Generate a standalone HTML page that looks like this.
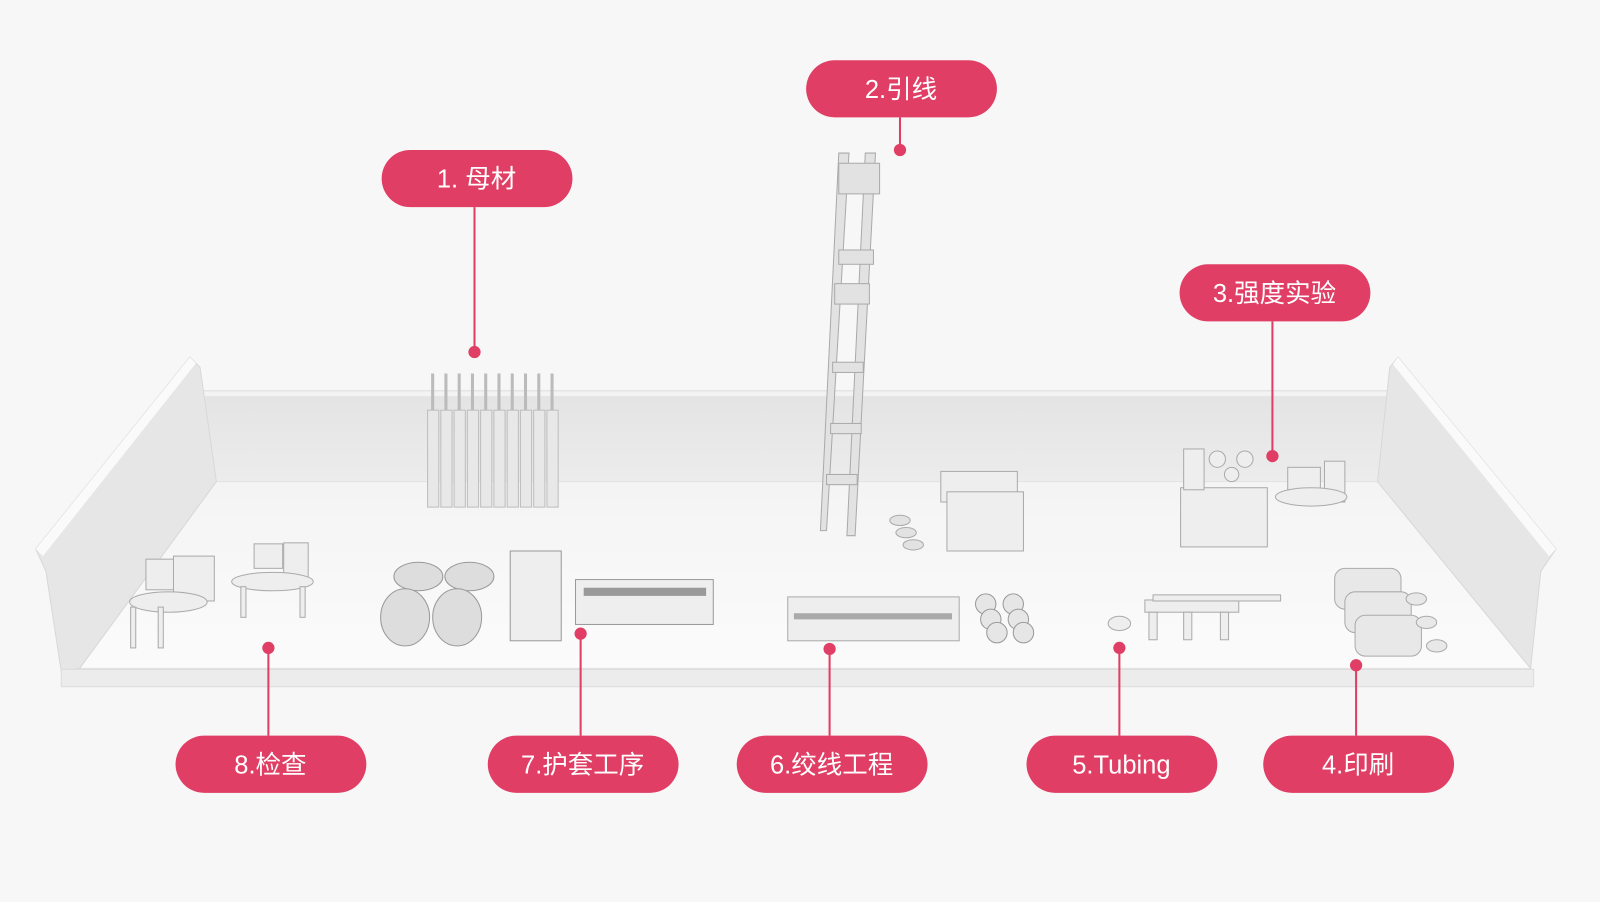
<!DOCTYPE html>
<html><head><meta charset="utf-8"><style>
html,body{margin:0;padding:0;background:#f7f7f7;}
svg{display:block}
text{font-family:"Liberation Sans","Noto Sans CJK SC",sans-serif;}
</style></head><body>
<svg width="1600" height="902" viewBox="0 0 1568 884" xmlns="http://www.w3.org/2000/svg">
<defs>
<linearGradient id="wall" x1="0" y1="0" x2="0" y2="1"><stop offset="0" stop-color="#e4e4e4"/><stop offset="1" stop-color="#ececec"/></linearGradient>
<linearGradient id="floor" x1="0" y1="0" x2="0" y2="1"><stop offset="0" stop-color="#f4f4f4"/><stop offset="1" stop-color="#fbfbfb"/></linearGradient>
</defs>
<rect width="1568" height="884" fill="#f7f7f7"/>
<!-- back wall -->
<rect x="195" y="383" width="1170" height="6" fill="#f3f3f3" stroke="#ddd"/>
<rect x="195" y="389" width="1170" height="83" fill="url(#wall)"/>
<!-- floor -->
<polygon points="212,472 1350,472 1500,655 78,655" fill="url(#floor)" stroke="#e2e2e2"/>
<!-- left wall -->
<polygon points="35,538 186,350 196,360 212,472 78,655 60,658 45,560" fill="#e6e6e6" stroke="#d8d8d8"/>
<polygon points="35,538 186,350 192,356 42,545" fill="#fafafa"/>
<!-- right wall -->
<polygon points="1370,350 1525,538 1510,560 1500,655 1350,472 1362,360" fill="#e6e6e6" stroke="#d8d8d8"/>
<polygon points="1370,350 1525,538 1518,545 1365,357" fill="#fafafa"/>
<!-- front edge -->
<rect x="60" y="656" width="1443" height="17" fill="#ececec" stroke="#dcdcdc"/>
<!-- rods (1) -->
<g fill="#e8e8e8" stroke="#bdbdbd">
<rect x="419" y="402" width="11" height="95"/><rect x="432" y="402" width="11" height="95"/><rect x="445" y="402" width="11" height="95"/><rect x="458" y="402" width="11" height="95"/><rect x="471" y="402" width="11" height="95"/><rect x="484" y="402" width="11" height="95"/><rect x="497" y="402" width="11" height="95"/><rect x="510" y="402" width="11" height="95"/><rect x="523" y="402" width="11" height="95"/><rect x="536" y="402" width="11" height="95"/>
</g>
<g stroke="#bbb" stroke-width="3"><path d="M424 366V402M437 366V402M450 366V402M463 366V402M476 366V402M489 366V402M502 366V402M515 366V402M528 366V402M541 366V402"/></g>
<!-- tower (2) -->
<g fill="#e2e2e2" stroke="#aaa">
<polygon points="822,150 832,150 810,520 804,520"/>
<polygon points="848,150 858,150 838,525 830,525"/>
<rect x="822" y="160" width="40" height="30"/><rect x="822" y="245" width="34" height="14"/><rect x="818" y="278" width="34" height="20"/>
<rect x="816" y="355" width="30" height="10"/><rect x="814" y="415" width="30" height="10"/><rect x="810" y="465" width="30" height="10"/>
<ellipse cx="882" cy="510" rx="10" ry="5"/><ellipse cx="888" cy="522" rx="10" ry="5"/><ellipse cx="895" cy="534" rx="10" ry="5"/>
</g>
<g fill="#eee" stroke="#aaa"><rect x="922" y="462" width="75" height="30"/><rect x="928" y="482" width="75" height="58"/></g>
<!-- spools (7) -->
<g fill="#ddd" stroke="#999">
<ellipse cx="410" cy="565" rx="24" ry="14"/><ellipse cx="460" cy="565" rx="24" ry="14"/>
<ellipse cx="397" cy="605" rx="24" ry="28"/><ellipse cx="448" cy="605" rx="24" ry="28"/>
<rect x="500" y="540" width="50" height="88" fill="#eee"/>
<rect x="564" y="568" width="135" height="44" fill="#eee"/>
</g>
<rect x="572" y="576" width="120" height="8" fill="#999"/>
<!-- stranding (6) -->
<g fill="#eee" stroke="#aaa"><rect x="772" y="585" width="168" height="43"/></g>
<rect x="778" y="601" width="155" height="6" fill="#aaa"/>
<g fill="#e6e6e6" stroke="#999"><circle cx="966" cy="592" r="10"/><circle cx="993" cy="592" r="10"/><circle cx="971" cy="607" r="10"/><circle cx="998" cy="607" r="10"/><circle cx="977" cy="620" r="10"/><circle cx="1003" cy="620" r="10"/></g>
<!-- tubing (5) -->
<g fill="#eee" stroke="#aaa"><rect x="1122" y="588" width="92" height="12"/><rect x="1126" y="600" width="8" height="27"/><rect x="1160" y="600" width="8" height="27"/><rect x="1196" y="600" width="8" height="27"/><rect x="1130" y="583" width="125" height="6"/><ellipse cx="1097" cy="611" rx="11" ry="7"/></g>
<!-- printing (4) -->
<g fill="#e8e8e8" stroke="#aaa"><rect x="1308" y="557" width="65" height="40" rx="10"/><rect x="1318" y="580" width="65" height="40" rx="10"/><rect x="1328" y="603" width="65" height="40" rx="10"/>
<ellipse cx="1388" cy="587" rx="10" ry="6"/><ellipse cx="1398" cy="610" rx="10" ry="6"/><ellipse cx="1408" cy="633" rx="10" ry="6"/></g>
<!-- strength (3) -->
<g fill="#eee" stroke="#aaa"><rect x="1157" y="478" width="85" height="58"/><rect x="1160" y="440" width="20" height="40"/><circle cx="1193" cy="450" r="8"/><circle cx="1220" cy="450" r="8"/><circle cx="1207" cy="465" r="7"/>
<rect x="1262" y="458" width="32" height="22"/><rect x="1298" y="452" width="20" height="40"/><ellipse cx="1285" cy="487" rx="35" ry="9"/></g>
<!-- inspection (8) -->
<g fill="#eee" stroke="#aaa"><rect x="143" y="548" width="28" height="30"/><rect x="170" y="545" width="40" height="44"/><ellipse cx="165" cy="590" rx="38" ry="10"/><rect x="128" y="595" width="5" height="40"/><rect x="155" y="595" width="5" height="40"/>
<rect x="249" y="533" width="28" height="24"/><rect x="278" y="532" width="24" height="36"/><ellipse cx="267" cy="570" rx="40" ry="9"/><rect x="236" y="575" width="5" height="30"/><rect x="294" y="575" width="5" height="30"/></g>
<!-- pills & connectors -->
<g stroke="#e03e64" stroke-width="2" fill="none">
<path d="M465 203V345M882 115V147M1247 315V447M263 635V721M569 621V721M813 636V721M1097 635V721M1329 652V721"/>
</g>
<g fill="#e03e64">
<circle cx="465" cy="345" r="6"/><circle cx="882" cy="147" r="6"/><circle cx="1247" cy="447" r="6"/><circle cx="263" cy="635" r="6"/><circle cx="569" cy="621" r="6"/><circle cx="813" cy="636" r="6"/><circle cx="1097" cy="635" r="6"/><circle cx="1329" cy="652" r="6"/>
<rect x="374" y="147" width="187" height="56" rx="28"/>
<rect x="790" y="59" width="187" height="56" rx="28"/>
<rect x="1156" y="259" width="187" height="56" rx="28"/>
<rect x="172" y="721" width="187" height="56" rx="28"/>
<rect x="478" y="721" width="187" height="56" rx="28"/>
<rect x="722" y="721" width="187" height="56" rx="28"/>
<rect x="1006" y="721" width="187" height="56" rx="28"/>
<rect x="1238" y="721" width="187" height="56" rx="28"/>
</g>
<g fill="#fff" font-size="25" text-anchor="middle">
<text x="467" y="184">1. 母材</text>
<text x="883" y="96">2.引线</text>
<text x="1249" y="296">3.强度实验</text>
<text x="265" y="758">8.检查</text>
<text x="571" y="758">7.护套工序</text>
<text x="815" y="758">6.绞线工程</text>
<text x="1099" y="758">5.Tubing</text>
<text x="1331" y="758">4.印刷</text>
</g>
</svg>
</body></html>
